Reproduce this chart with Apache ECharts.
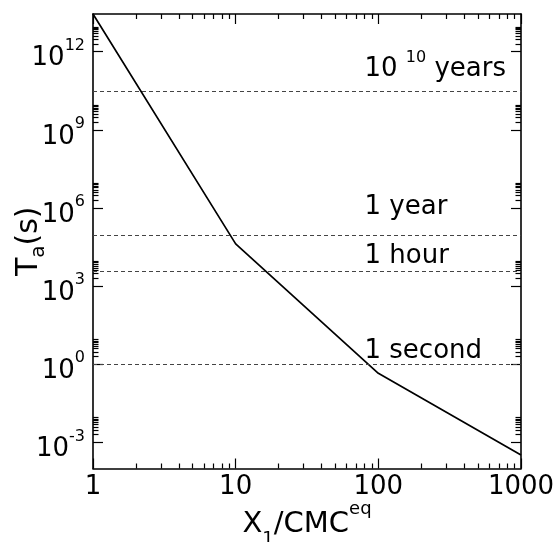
<!DOCTYPE html>
<html>
<head>
<meta charset="utf-8">
<script src="https://cdn.jsdelivr.net/npm/echarts@6/dist/echarts.min.js"></script>
<style>
  html, body { margin: 0; padding: 0; background: #fff; }
  #chart { width: 554px; height: 542px; }
</style>
</head>
<body>
<div id="chart"></div>
<script>
// Aggregation time T_a versus reduced monomer concentration X1/CMC^eq (log-log)
const concentration = [1, 10, 100, 1000];            // X1 / CMC^eq
const aggregationTime = [2.8e13, 4.2e4, 0.45, 3.3e-4]; // T_a in seconds

// Horizontal time references, in seconds, and where their captions sit
const refNames = ['1 second', '1 hour', '1 year', '10^10 years'];
const refSeconds = [1, 3600, 86400, 3.15e10];
const refCaptionY = [3.1, 1.46e4, 1.05e6, 2.15e11];
const refCaptionX = 80;

// Axis tick values
const xTicks = [1, 10, 100, 1000];
const yTicks = [1e-3, 1, 1e3, 1e6, 1e9, 1e12];

const FONT = '"DejaVu Sans", "Liberation Sans", Arial, sans-serif';
const BLACK = '#000';

// minor ticks: 2..9 within each decade on x, and in the decade above each labelled y tick
const xMinor = [];
[1, 10, 100].forEach(d => { for (let k = 2; k <= 9; k++) xMinor.push(k * d); });
const yMinor = [];
yTicks.forEach(d => { for (let k = 2; k <= 9; k++) yMinor.push(k * d); });

const frameLine = { color: BLACK, width: 1.6 };

function xAxisDef(position, ticks, len, showLine, label) {
  return {
    type: 'log', logBase: 10, min: 1, max: 1000, position: position,
    axisLine: { show: showLine, onZero: false, lineStyle: frameLine },
    axisTick: { show: true, inside: true, length: len, customValues: ticks,
                lineStyle: { color: BLACK, width: 1.2 } },
    axisLabel: label || { show: false },
    splitLine: { show: false }, minorTick: { show: false }
  };
}
function yAxisDef(position, ticks, len, showLine, label) {
  return {
    type: 'log', logBase: 10, min: 1e-4, max: 2.8e13, position: position,
    axisLine: { show: showLine, onZero: false, lineStyle: frameLine },
    axisTick: { show: true, inside: true, length: len, customValues: ticks,
                lineStyle: { color: BLACK, width: 1.2 } },
    axisLabel: label || { show: false },
    splitLine: { show: false }, minorTick: { show: false }
  };
}

const xMain = xAxisDef('bottom', xTicks, 10, true, {
  show: true, customValues: xTicks, margin: 6,
  fontSize: 26, fontFamily: FONT, color: BLACK,
  formatter: v => String(Math.round(v))
});
xMain.name = '{t|X}{sub|1}{t|/CMC}{sup|eq}';
xMain.nameLocation = 'middle';
xMain.nameGap = 42;
xMain.nameMoveOverlap = false;
xMain.nameTextStyle = {
  color: BLACK, fontFamily: FONT,
  rich: {
    t: { fontSize: 29, lineHeight: 28, fontFamily: FONT, color: BLACK, verticalAlign: 'middle' },
    sub: { fontSize: 18, lineHeight: 18, padding: [29, 0, 0, 0], fontFamily: FONT, color: BLACK, verticalAlign: 'middle' },
    sup: { fontSize: 18, lineHeight: 18, padding: [0, 0, 30, 0], fontFamily: FONT, color: BLACK, verticalAlign: 'middle' }
  }
};

const yMain = yAxisDef('left', yTicks, 10, true, {
  show: true, customValues: yTicks, margin: 8,
  fontFamily: FONT, color: BLACK,
  formatter: v => '{b|10}{s|' + Math.round(Math.log10(v)) + '}',
  rich: {
    b: { fontSize: 26, lineHeight: 26, padding: [14, 0, 0, 0], fontFamily: FONT, color: BLACK, verticalAlign: 'middle' },
    s: { fontSize: 16, lineHeight: 16, padding: [0, 0, 12, 0], fontFamily: FONT, color: BLACK, verticalAlign: 'middle' }
  }
});
yMain.name = '{t|T}{sub|a}{t|(s)}';
yMain.nameLocation = 'middle';
yMain.nameRotate = 90;
yMain.nameGap = 49;
yMain.nameMoveOverlap = false;
yMain.nameTextStyle = {
  color: BLACK, fontFamily: FONT,
  rich: {
    t: { fontSize: 30, lineHeight: 30, fontFamily: FONT, color: BLACK, verticalAlign: 'middle' },
    sub: { fontSize: 20, lineHeight: 20, padding: [20, 0, 0, 0], fontFamily: FONT, color: BLACK, verticalAlign: 'middle' }
  }
};

const option = {
  animation: false,
  backgroundColor: '#fff',
  grid: { left: 93, right: 33, top: 14, bottom: 73.5, containLabel: false, outerBoundsMode: 'none' },
  xAxis: [
    xMain,
    xAxisDef('bottom', xMinor, 5, false),
    xAxisDef('top', xTicks, 10, true),
    xAxisDef('top', xMinor, 5, false)
  ],
  yAxis: [
    yMain,
    yAxisDef('left', yMinor, 5.5, false),
    yAxisDef('right', yTicks, 10, true),
    yAxisDef('right', yMinor, 5.5, false)
  ],
  series: [
    {
      type: 'line',
      xAxisIndex: 0, yAxisIndex: 0,
      data: concentration.map((x, i) => [x, aggregationTime[i]]),
      showSymbol: false, symbol: 'none',
      lineStyle: { color: BLACK, width: 1.7 },
      silent: true,
      markLine: {
        silent: true, symbol: ['none', 'none'],
        label: { show: false },
        lineStyle: { color: '#444', width: 1.2, type: [4, 3] },
        data: refSeconds.map(v => ({ yAxis: v }))
      }
    },
    {
      type: 'scatter',
      xAxisIndex: 0, yAxisIndex: 0,
      symbolSize: 0, silent: true,
      itemStyle: { opacity: 1 },
      data: refCaptionY.map((y, i) => ({ value: [refCaptionX, y], name: refNames[i] })),
      label: {
        show: true, position: 'right', distance: 0, opacity: 1,
        fontFamily: FONT, color: BLACK,
        formatter: p => {
          const m = p.name.match(/^(\d+)\^(\d+)\s+(.*)$/);
          if (m) return '{b|' + m[1] + ' }{s|' + m[2] + '}{b| ' + m[3] + '}';
          return '{b|' + p.name + '}';
        },
        rich: {
          b: { fontSize: 26, lineHeight: 26, fontFamily: FONT, color: BLACK, verticalAlign: 'middle' },
          s: { fontSize: 16, lineHeight: 16, padding: [0, 0, 23, 0], fontFamily: FONT, color: BLACK, verticalAlign: 'middle' }
        }
      }
    }
  ]
};

const chart = echarts.init(document.getElementById('chart'), null, { renderer: 'canvas' });
chart.setOption(option);
</script>
</body>
</html>
